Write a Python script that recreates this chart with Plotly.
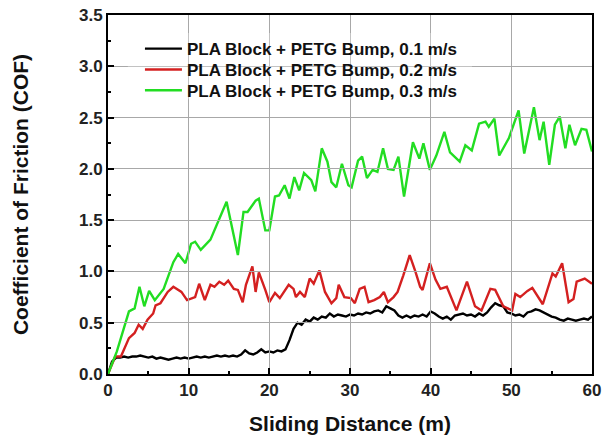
import plotly.graph_objects as go

# ---------------- data ----------------
black_x = [0.0, 0.5, 1.0, 1.5, 2.0, 2.5, 3.0, 3.5, 4.0, 4.5, 5.0, 5.5, 6.0, 6.5, 7.0, 7.5, 8.0, 8.5, 9.0, 9.5,
           10.0, 10.5, 11.0, 11.5, 12.0, 12.5, 13.0, 13.5, 14.0, 14.5, 15.0, 15.5, 16.0, 16.5, 17.0, 17.5, 18.0, 18.5, 19.0, 19.5,
           20.0, 20.5, 21.0, 21.5, 22.0, 22.5, 23.0, 23.5, 24.0, 24.5, 25.0, 25.5, 26.0, 26.5, 27.0, 27.5, 28.0, 28.5, 29.0, 29.5,
           30.0, 30.5, 31.0, 31.5, 32.0, 32.5, 33.0, 33.5, 34.0, 34.5, 35.0, 35.5, 36.0, 36.5, 37.0, 37.5, 38.0, 38.5, 39.0, 39.5,
           40.0, 40.5, 41.0, 41.5, 42.0, 42.5, 43.0, 43.5, 44.0, 44.5, 45.0, 45.5, 46.0, 46.5, 47.0, 47.5, 48.0, 48.5, 49.0, 49.5,
           50.0, 50.5, 51.0, 51.5, 52.0, 52.5, 53.0, 53.5, 54.0, 54.5, 55.0, 55.5, 56.0, 56.5, 57.0, 57.5, 58.0, 58.5, 59.0, 59.5,
           60.0]
black_y = [0.00, 0.12, 0.16, 0.16, 0.17, 0.16, 0.17, 0.17, 0.18, 0.17, 0.16, 0.17, 0.15, 0.16, 0.15, 0.14, 0.15, 0.16, 0.15, 0.16,
           0.15, 0.16, 0.17, 0.16, 0.17, 0.16, 0.17, 0.18, 0.17, 0.18, 0.17, 0.18, 0.17, 0.19, 0.23, 0.20, 0.19, 0.21, 0.24, 0.21,
           0.22, 0.21, 0.23, 0.22, 0.24, 0.33, 0.44, 0.50, 0.48, 0.53, 0.51, 0.55, 0.53, 0.56, 0.55, 0.59, 0.56, 0.58, 0.57, 0.56,
           0.58, 0.57, 0.59, 0.58, 0.60, 0.59, 0.61, 0.62, 0.60, 0.66, 0.64, 0.62, 0.57, 0.55, 0.57, 0.55, 0.57, 0.56, 0.58, 0.56,
           0.61, 0.59, 0.56, 0.54, 0.56, 0.53, 0.57, 0.58, 0.59, 0.57, 0.58, 0.56, 0.59, 0.57, 0.60, 0.65, 0.69, 0.67, 0.66, 0.60,
           0.59, 0.57, 0.58, 0.56, 0.60, 0.61, 0.63, 0.62, 0.60, 0.58, 0.56, 0.55, 0.53, 0.52, 0.54, 0.53, 0.52, 0.53, 0.54, 0.53,
           0.56]

red_x = [0.0, 0.9, 1.6, 2.6, 3.3, 3.8, 4.3, 4.9, 5.6, 5.9, 6.5, 7.4, 8.1, 9.1, 9.8, 10.8, 11.3, 12.0, 12.7, 13.2,
         13.8, 14.4, 14.9, 15.6, 16.1, 16.7, 17.1, 17.9, 18.3, 18.7, 19.5, 20.0, 20.7, 21.3, 22.4, 23.0, 23.3, 23.8, 24.4, 25.0,
         25.5, 26.2, 26.9, 27.7, 28.3, 28.6, 29.3, 30.1, 30.6, 31.2, 31.8, 32.3, 33.0, 33.7, 34.2, 34.7, 35.4, 35.9, 36.6, 37.4,
         38.1, 38.7, 39.0, 39.9, 40.6, 41.2, 42.0, 43.2, 44.5, 45.5, 46.3, 47.4, 48.0, 49.0, 50.1, 50.5, 51.1, 52.0, 52.6, 53.9,
         55.1, 55.5, 56.3, 57.1, 57.7, 58.1, 59.1, 59.7, 60.0]
red_y = [0.00, 0.17, 0.17, 0.35, 0.40, 0.48, 0.44, 0.53, 0.59, 0.67, 0.69, 0.80, 0.85, 0.80, 0.72, 0.75, 0.88, 0.72, 0.87, 0.85,
         0.90, 0.87, 0.91, 0.83, 0.82, 0.70, 0.87, 1.05, 0.80, 0.99, 0.82, 0.70, 0.79, 0.74, 0.87, 0.83, 0.75, 0.80, 0.75, 0.93,
         0.88, 1.01, 0.80, 0.69, 0.74, 0.87, 0.75, 0.74, 0.69, 0.83, 0.85, 0.70, 0.72, 0.75, 0.80, 0.70, 0.75, 0.80, 0.96, 1.16,
         1.00, 0.85, 0.82, 1.08, 0.92, 0.83, 0.85, 0.62, 0.90, 0.66, 0.62, 0.83, 0.82, 0.66, 0.62, 0.78, 0.75, 0.81, 0.84, 0.68,
         0.98, 0.95, 1.08, 0.70, 0.73, 0.90, 0.93, 0.90, 0.88]

green_x = [0.0, 1.1, 2.6, 3.3, 3.9, 4.5, 5.1, 5.8, 6.9, 8.1, 8.7, 9.6, 10.3, 10.8, 11.5, 12.7, 14.7, 16.1, 16.8, 17.3,
           18.3, 18.7, 19.5, 20.0, 20.7, 21.2, 21.9, 22.5, 23.1, 23.7, 24.3, 25.2, 25.7, 26.5, 27.2, 27.7, 28.3, 29.0, 29.8, 30.2,
           31.0, 31.5, 32.1, 32.8, 33.4, 34.1, 34.7, 35.4, 36.0, 36.7, 37.8, 38.6, 39.1, 39.9, 40.7, 41.7, 42.4, 43.6, 44.3, 45.1,
           46.0, 46.8, 47.2, 47.9, 48.5, 49.7, 50.9, 51.6, 52.8, 53.5, 54.0, 54.7, 55.4, 56.0, 56.7, 57.2, 57.9, 58.7, 59.3, 60.0]
green_y = [0.00, 0.22, 0.61, 0.64, 0.85, 0.66, 0.81, 0.72, 0.83, 1.09, 1.17, 1.08, 1.27, 1.29, 1.21, 1.31, 1.68, 1.16, 1.58, 1.58,
           1.69, 1.71, 1.40, 1.40, 1.73, 1.74, 1.84, 1.71, 1.92, 1.79, 1.96, 1.89, 1.78, 2.20, 2.07, 1.87, 1.82, 2.05, 1.84, 1.82,
           2.08, 2.12, 1.91, 1.99, 1.97, 2.20, 2.00, 1.99, 2.12, 1.73, 2.26, 2.10, 2.25, 1.99, 2.13, 2.36, 2.16, 2.07, 2.23, 2.18,
           2.44, 2.46, 2.41, 2.49, 2.13, 2.30, 2.57, 2.15, 2.60, 2.28, 2.46, 2.04, 2.43, 2.51, 2.20, 2.43, 2.23, 2.39, 2.38, 2.17]

names = ["PLA Block + PETG Bump, 0.1 m/s",
         "PLA Block + PETG Bump, 0.2 m/s",
         "PLA Block + PETG Bump, 0.3 m/s"]
colors = ["#000000", "#d42020", "#22dd22"]

x_range = [0, 60]
y_range = [0, 3.5]

FONT = "Liberation Sans, Arial, sans-serif"
W, H = 612, 441
ML, MR, MT, MB = 108, 20, 15, 67
PLOT_W = W - ML - MR
PLOT_H = H - MT - MB

# ---------------- figure ----------------
fig = go.Figure()

# empty trace on the bottom subplot, whose full-length ticks act as the grid
fig.add_trace(go.Scatter(x=[], y=[], showlegend=False, hoverinfo="skip"))

legend_ids = ["legend", "legend2", "legend3"]
for xs, ys, nm, c, lg in [(black_x, black_y, names[0], colors[0], legend_ids[0]),
                          (red_x, red_y, names[1], colors[1], legend_ids[1]),
                          (green_x, green_y, names[2], colors[2], legend_ids[2])]:
    fig.add_trace(go.Scatter(x=xs, y=ys, mode="lines", name=nm, legend=lg,
                             xaxis="x2", yaxis="y2",
                             line=dict(color=c, width=2.4)))

grid_axis = dict(ticks="inside", tickwidth=1, tickcolor="#a8a8a8",
                 showticklabels=False, showgrid=False, showline=False,
                 zeroline=False, automargin=False, tickmode="linear")

fig.update_layout(
    template="simple_white",
    # bottom axes: gridlines drawn as full-length gray ticks
    xaxis=dict(range=x_range, tick0=0, dtick=10, ticklen=PLOT_H, **grid_axis),
    yaxis=dict(range=y_range, tick0=0, dtick=0.5, ticklen=PLOT_W, **grid_axis),
    # visible axes carrying the data, labels, frame and ticks
    xaxis2=dict(range=x_range, overlaying="x", anchor="y", side="bottom",
                tickmode="linear", tick0=0, dtick=10,
                showline=True, linecolor="black", linewidth=2, mirror=True,
                ticks="inside", ticklen=6, tickwidth=2, tickcolor="black",
                minor=dict(dtick=5, ticklen=3, tickwidth=2, tickcolor="black", ticks="inside"),
                showgrid=False, zeroline=False, automargin=False,
                tickfont=dict(family=FONT, size=17, color="#222222", weight="bold"),
                title=dict(text="Sliding Distance (m)", standoff=17,
                           font=dict(family=FONT, size=21, color="#111111", weight="bold"))),
    yaxis2=dict(range=y_range, overlaying="y", anchor="x", side="left",
                tickmode="linear", tick0=0, dtick=0.5, tickformat=".1f",
                showline=True, linecolor="black", linewidth=2, mirror=True,
                ticks="inside", ticklen=6, tickwidth=2, tickcolor="black",
                minor=dict(dtick=0.25, ticklen=3, tickwidth=2, tickcolor="black", ticks="inside"),
                showgrid=False, zeroline=False, automargin=False,
                tickfont=dict(family=FONT, size=17, color="#222222", weight="bold"),
                title=dict(text="Coefficient of Friction (COF)", standoff=45,
                           font=dict(family=FONT, size=21, color="#111111", weight="bold"))),
)

# white patch behind the legend rows (hides the grid there; no data passes through it)
fig.add_shape(type="rect", xref="paper", yref="paper", x0=0.041, x1=0.752, y0=0.765, y1=0.95,
              fillcolor="white", line=dict(width=0), layer="above")

leg_common = dict(x=0.066, xanchor="left", yanchor="middle",
                  bgcolor="rgba(0,0,0,0)", borderwidth=0, itemwidth=37,
                  font=dict(family=FONT, size=17, color="#111111", weight="bold"))
row_y = [0.905, 0.847, 0.789]

fig.update_layout(
    width=W, height=H,
    margin=dict(l=ML, r=MR, t=MT, b=MB, autoexpand=False),
    paper_bgcolor="white", plot_bgcolor="white",
    showlegend=True,
    legend=dict(y=row_y[0], **leg_common),
    legend2=dict(y=row_y[1], **leg_common),
    legend3=dict(y=row_y[2], **leg_common),
)

fig.write_html("out.html")
